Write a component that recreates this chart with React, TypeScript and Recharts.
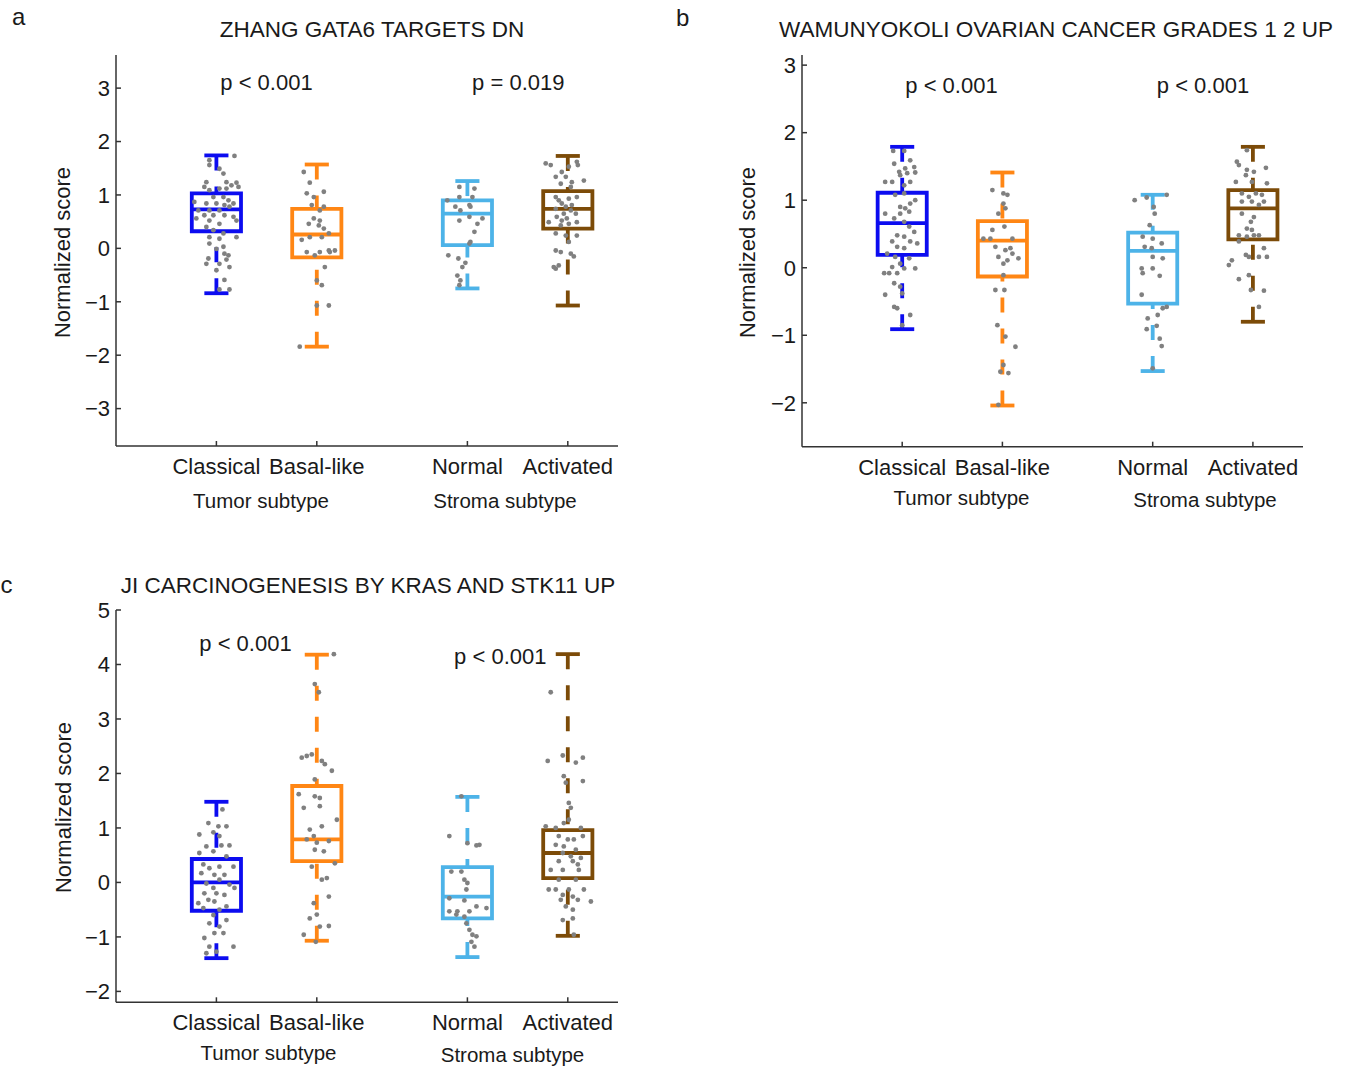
import { ComposedChart, XAxis, YAxis, Scatter, ReferenceArea, ReferenceLine } from 'recharts';

const FONT = '"Liberation Sans", Arial, Helvetica, sans-serif';
const TEXT = '#1a1a1a';
const AXIS = '#333333';
const DOT = '#808080';

const categories = ['Classical', 'Basal-like', 'Normal', 'Activated'];
const catPositions = [1, 2, 3.5, 4.5];
const groupColors = ['#0c0cf0', '#ff8614', '#4db3e8', '#7c4b08'];

// box stats per group: [lower whisker, q1, median, q3, upper whisker]
const statsA = [
  [-0.84, 0.32, 0.73, 1.03, 1.74],
  [-1.84, -0.17, 0.26, 0.74, 1.57],
  [-0.75, 0.06, 0.65, 0.9, 1.26],
  [-1.07, 0.37, 0.74, 1.07, 1.73],
];
const statsB = [
  [-0.91, 0.19, 0.66, 1.11, 1.79],
  [-2.04, -0.13, 0.4, 0.69, 1.41],
  [-1.53, -0.53, 0.25, 0.52, 1.08],
  [-0.8, 0.42, 0.88, 1.15, 1.79],
];
const statsC = [
  [-1.39, -0.52, 0.0, 0.43, 1.48],
  [-1.07, 0.39, 0.79, 1.77, 4.18],
  [-1.37, -0.66, -0.26, 0.28, 1.57],
  [-0.98, 0.08, 0.54, 0.96, 4.19],
];

// jittered samples: [offset from group centre, normalized score]
const dotsAClassical = [
  [-0.07, 1.65], [0.18, 1.73], [-0.07, 1.56], [0.03, 1.49], [0.07, 1.4], [-0.1, 1.24], [-0.12, 1.15],
  [-0.07, 1.09], [0.1, 1.24], [0.15, 1.18], [0.2, 1.23], [0.22, 1.15], [0.03, 1.12], [0.1, 1.12],
  [-0.03, 0.96], [0.07, 0.96], [0.12, 0.9], [0.17, 0.84], [-0.22, 0.87], [-0.1, 0.84], [0.0, 0.84],
  [0.08, 0.81], [0.13, 0.78], [-0.18, 0.71], [-0.07, 0.71], [0.03, 0.71], [-0.12, 0.62], [-0.03, 0.62],
  [0.08, 0.62], [0.17, 0.59], [0.2, 0.52], [-0.2, 0.56], [-0.07, 0.52], [0.03, 0.46], [-0.1, 0.4],
  [-0.03, 0.34], [0.07, 0.28], [-0.07, 0.21], [0.2, 0.21], [0.03, 0.18], [-0.07, 0.09], [0.07, 0.03],
  [0.0, -0.01], [0.08, -0.1], [0.12, -0.13], [-0.08, -0.19], [0.1, -0.21], [-0.1, -0.29], [0.03, -0.29],
  [0.13, -0.35], [0.0, -0.41], [0.08, -0.59], [0.03, -0.77], [0.13, -0.77],
];
const dotsABasal = [
  [-0.13, 1.43], [-0.07, 1.23], [-0.1, 1.03], [0.07, 1.06], [-0.03, 0.96], [-0.05, 0.81], [0.03, 0.71],
  [-0.03, 0.56], [0.03, 0.52], [0.02, 0.43], [0.07, 0.37], [0.12, 0.28], [-0.15, 0.16], [0.05, 0.21],
  [-0.1, -0.07], [0.03, -0.07], [0.12, -0.04], [0.18, -0.04], [0.13, -0.07], [-0.02, -0.13], [0.08, -0.35],
  [0.0, -0.6], [0.05, -0.69], [0.0, -1.07], [0.12, -1.07], [-0.17, -1.84], [-0.07, 0.21], [0.07, 0.78],
  [-0.08, 0.46],
];
const dotsANormal = [
  [-0.08, 1.15], [0.07, 1.12], [-0.08, 0.96], [0.05, 0.96], [-0.2, 0.9], [-0.12, 0.78], [0.02, 0.81],
  [-0.07, 0.71], [0.03, 0.78], [-0.08, 0.52], [0.02, 0.59], [0.15, 0.56], [0.1, 0.46], [0.07, 0.31],
  [0.03, 0.12], [0.02, 0.09], [-0.19, -0.13], [-0.09, -0.19], [-0.02, -0.27], [-0.05, -0.35], [-0.1, -0.51],
  [-0.07, -0.6], [-0.08, -0.69],
];
const dotsAActivated = [
  [-0.22, 1.59], [-0.17, 1.56], [0.01, 1.53], [0.09, 1.62], [0.1, 1.56], [-0.06, 1.43], [-0.12, 1.34],
  [-0.02, 1.34], [0.04, 1.24], [0.16, 1.27], [-0.07, 1.21], [0.03, 1.15], [-0.12, 0.96], [-0.09, 0.9],
  [0.01, 0.93], [0.09, 0.96], [-0.06, 0.84], [-0.02, 0.78], [0.04, 0.81], [-0.12, 0.74], [-0.04, 0.65],
  [0.03, 0.71], [0.08, 0.65], [-0.19, 0.49], [-0.11, 0.59], [-0.06, 0.52], [-0.01, 0.56], [0.09, 0.49],
  [-0.07, 0.43], [0.01, 0.46], [-0.12, 0.28], [-0.02, 0.24], [0.09, 0.24], [0.01, 0.12], [-0.12, -0.04],
  [-0.07, -0.07], [0.03, -0.1], [0.06, -0.15], [-0.14, -0.35], [-0.09, -0.32], [-0.12, -0.38],
];

const dotsBClassical = [
  [-0.09, 1.73], [0.02, 1.73], [0.08, 1.59], [-0.08, 1.54], [0.03, 1.47], [0.12, 1.49], [-0.03, 1.42],
  [-0.17, 1.27], [-0.1, 1.27], [-0.02, 1.37], [0.05, 1.4], [0.13, 1.41], [0.08, 1.27], [0.02, 1.22],
  [-0.07, 1.08], [0.02, 1.1], [0.13, 1.0], [0.08, 0.95], [-0.02, 0.9], [0.03, 0.88], [-0.17, 0.8],
  [-0.02, 0.8], [0.07, 0.83], [-0.08, 0.73], [0.02, 0.68], [0.07, 0.61], [0.12, 0.53], [-0.05, 0.48],
  [0.02, 0.46], [-0.1, 0.39], [0.08, 0.39], [0.15, 0.36], [-0.05, 0.31], [0.02, 0.29], [-0.15, 0.21],
  [-0.07, 0.16], [0.07, 0.14], [-0.02, 0.06], [-0.1, 0.01], [0.02, -0.01], [0.13, -0.01], [-0.18, -0.08],
  [-0.13, -0.08], [-0.05, -0.08], [-0.08, -0.23], [-0.02, -0.28], [0.0, -0.38], [-0.17, -0.4],
  [-0.08, -0.58], [-0.05, -0.6], [0.08, -0.7], [0.0, -0.85],
];
const dotsBBasal = [
  [-0.1, 1.15], [0.01, 1.1], [0.01, 0.95], [-0.04, 0.8], [-0.1, 0.56], [-0.19, 0.43], [-0.12, 0.43],
  [-0.07, 0.31], [0.03, 0.26], [-0.04, 0.16], [0.01, 0.06], [-0.07, -0.33], [-0.05, -0.85], [0.03, -1.02],
  [0.01, -1.44], [-0.02, -1.54], [0.06, -1.56], [0.05, 1.08], [0.03, 0.88], [0.02, 0.61], [0.1, 0.43],
  [0.08, 0.29], [0.1, 0.21], [0.05, 0.11], [0.16, 0.14], [0.01, -0.11], [0.02, -0.33], [0.13, -1.17],
  [-0.04, -2.03],
];
const dotsBNormal = [
  [-0.18, 1.0], [-0.06, 1.04], [0.14, 1.08], [0.01, 0.9], [0.02, 0.8], [-0.03, 0.63], [-0.1, 0.46],
  [0.0, 0.43], [-0.08, 0.31], [-0.01, 0.29], [0.09, 0.36], [0.0, 0.16], [0.1, 0.14], [-0.11, -0.01],
  [0.0, -0.01], [-0.1, -0.08], [0.07, -0.12], [-0.11, -0.4], [0.14, -0.58], [0.1, -0.6], [0.05, -0.7],
  [-0.05, -0.75], [0.04, -0.86], [-0.06, -0.91], [0.07, -1.05], [0.09, -1.16], [0.0, -1.49],
];
const dotsBActivated = [
  [-0.06, 1.74], [-0.16, 1.57], [-0.14, 1.52], [-0.06, 1.45], [0.01, 1.42], [0.13, 1.48], [-0.07, 1.37],
  [-0.17, 1.27], [-0.01, 1.27], [0.14, 1.25], [-0.11, 1.1], [-0.04, 1.05], [0.03, 1.1], [0.09, 1.08],
  [-0.11, 0.98], [-0.01, 0.98], [0.11, 0.98], [0.06, 0.93], [-0.11, 0.8], [0.01, 0.75], [-0.02, 0.68],
  [-0.06, 0.58], [-0.01, 0.56], [-0.14, 0.48], [0.01, 0.48], [-0.06, 0.46], [0.06, 0.48], [-0.14, 0.39],
  [-0.07, 0.19], [-0.04, 0.16], [0.11, 0.29], [0.06, 0.16], [0.14, 0.16], [-0.21, 0.11], [-0.24, 0.04],
  [-0.04, -0.11], [-0.14, -0.17], [-0.02, -0.33], [0.11, -0.34], [0.06, -0.58],
];

const dotsCClassical = [
  [0.06, 1.34], [-0.08, 1.09], [0.02, 1.03], [0.1, 1.03], [-0.17, 0.88], [-0.03, 0.92], [0.03, 0.85],
  [-0.1, 0.66], [0.05, 0.68], [0.13, 0.68], [-0.17, 0.54], [-0.03, 0.57], [0.1, 0.48], [-0.13, 0.33],
  [-0.07, 0.26], [0.03, 0.29], [0.17, 0.29], [-0.15, 0.17], [-0.02, 0.14], [0.08, 0.14], [-0.1, -0.02],
  [0.03, 0.05], [0.13, -0.04], [-0.03, -0.1], [0.18, -0.1], [-0.12, -0.2], [0.0, -0.2], [0.08, -0.23],
  [-0.18, -0.38], [-0.08, -0.32], [-0.02, -0.35], [0.1, -0.44], [-0.13, -0.47], [0.03, -0.5],
  [-0.03, -0.6], [0.1, -0.69], [-0.07, -0.75], [0.03, -0.81], [-0.12, -1.02], [-0.02, -0.93],
  [0.07, -0.93], [-0.07, -1.18], [0.17, -1.18], [0.0, -1.27], [-0.1, -1.3],
];
const dotsCBasal = [
  [0.17, 4.19], [-0.02, 3.64], [0.02, 3.49], [-0.15, 2.29], [-0.1, 2.32], [-0.05, 2.35], [0.05, 2.23],
  [0.08, 2.17], [-0.02, 1.89], [-0.18, 1.62], [-0.02, 1.58], [0.03, 1.55], [-0.13, 1.37], [0.03, 1.4],
  [-0.07, 0.97], [0.05, 1.03], [-0.03, 0.85], [-0.1, 0.79], [0.0, 0.73], [0.12, 0.76], [-0.02, 0.6],
  [0.07, 0.57], [-0.05, 0.29], [0.05, 0.05], [0.1, 0.08], [0.12, -0.26], [-0.03, -0.38], [0.0, -0.59],
  [-0.07, -0.66], [0.03, -0.81], [-0.13, -0.96], [-0.01, -1.09], [0.2, 1.15], [0.15, 2.05], [0.18, 0.35],
  [0.12, -0.8],
];
const dotsCNormal = [
  [-0.06, 1.58], [-0.18, 0.85], [0.0, 0.72], [0.09, 0.68], [0.12, 0.69], [-0.16, 0.2], [-0.06, 0.2],
  [-0.03, 0.05], [0.0, -0.01], [-0.01, -0.13], [-0.18, -0.29], [-0.03, -0.33], [-0.18, -0.53],
  [-0.1, -0.53], [0.02, -0.53], [0.19, -0.47], [0.09, -0.44], [-0.03, -0.63], [-0.11, -0.59],
  [-0.01, -0.75], [0.02, -0.87], [0.05, -0.96], [0.09, -0.99], [0.04, -1.09], [0.07, -1.18],
];
const dotsCActivated = [
  [-0.17, 3.49], [-0.05, 2.33], [0.08, 2.2], [0.15, 2.29], [-0.2, 2.23], [-0.04, 1.95], [-0.02, 1.83],
  [0.15, 1.86], [0.01, 1.46], [0.03, 1.37], [0.01, 1.15], [-0.04, 1.09], [-0.22, 1.03], [-0.12, 1.0],
  [0.13, 1.0], [-0.09, 0.85], [0.0, 0.79], [0.06, 0.79], [0.15, 0.85], [-0.12, 0.69], [-0.04, 0.66],
  [0.08, 0.6], [-0.05, 0.54], [0.03, 0.48], [0.13, 0.45], [-0.09, 0.39], [0.05, 0.39], [0.1, 0.33],
  [-0.17, 0.23], [-0.05, 0.23], [0.11, 0.23], [-0.09, 0.05], [0.08, 0.05], [-0.19, -0.13], [-0.12, -0.13],
  [0.01, -0.13], [0.16, -0.13], [-0.05, -0.23], [0.05, -0.26], [-0.07, -0.32], [0.1, -0.32], [0.23, -0.35],
  [-0.02, -0.44], [0.05, -0.5], [-0.05, -0.69], [0.05, -0.66], [0.06, -0.96],
];

const panels = [
  {
    id: 'a', left: 0, top: 0, width: 660, height: 540,
    margin: { top: 55, right: 42, left: 66, bottom: 54 },
    yDomain: [-3.7, 3.62], yTicks: [-3, -2, -1, 0, 1, 2, 3],
    stats: statsA, dots: [dotsAClassical, dotsABasal, dotsANormal, dotsAActivated],
  },
  {
    id: 'b', left: 686, top: 0, width: 660, height: 540,
    margin: { top: 55, right: 43, left: 66, bottom: 53.3 },
    yDomain: [-2.65, 3.15], yTicks: [-2, -1, 0, 1, 2, 3],
    stats: statsB, dots: [dotsBClassical, dotsBBasal, dotsBNormal, dotsBActivated],
  },
  {
    id: 'c', left: 0, top: 555, width: 660, height: 510,
    margin: { top: 55, right: 42, left: 66, bottom: 22.7 },
    yDomain: [-2.2, 5], yTicks: [-2, -1, 0, 1, 2, 3, 4, 5],
    stats: statsC, dots: [dotsCClassical, dotsCBasal, dotsCNormal, dotsCActivated],
  },
];

const titles = [
  { x: 372, y: 37, text: 'ZHANG GATA6 TARGETS DN' },
  { x: 1056, y: 37, text: 'WAMUNYOKOLI OVARIAN CANCER GRADES 1 2 UP' },
  { x: 368, y: 592.5, text: 'JI CARCINOGENESIS BY KRAS AND STK11 UP' },
];
const panelLetters = [
  { x: 12, y: 25, text: 'a' },
  { x: 676, y: 26, text: 'b' },
  { x: 0.5, y: 593, text: 'c' },
];
const pValues = [
  { x: 266.5, y: 90, text: 'p < 0.001' },
  { x: 518.3, y: 90, text: 'p = 0.019' },
  { x: 951.5, y: 93.3, text: 'p < 0.001' },
  { x: 1203, y: 93.3, text: 'p < 0.001' },
  { x: 245.5, y: 650.7, text: 'p < 0.001' },
  { x: 500.3, y: 664, text: 'p < 0.001' },
];
const subtypeLabels = [
  { x: 261, y: 508, text: 'Tumor subtype' },
  { x: 505, y: 508, text: 'Stroma subtype' },
  { x: 961.5, y: 504.5, text: 'Tumor subtype' },
  { x: 1205, y: 507, text: 'Stroma subtype' },
  { x: 268.5, y: 1060, text: 'Tumor subtype' },
  { x: 512.5, y: 1061.5, text: 'Stroma subtype' },
];
const yLabels = [
  { x: 70, y: 252.5 },
  { x: 755, y: 252.5 },
  { x: 70.5, y: 807.5 },
];

const BOX_HALF = 0.245;
const CAP_HALF = 0.12;
const LINE_W = 3.8;
const DASH = '15 16';

const minus = (v: number) => (v < 0 ? '\u2212' + Math.abs(v) : String(v));
const catLabel = (v: number) => categories[catPositions.indexOf(v)] ?? '';

const dotShape = (p: any) => <circle cx={p.cx} cy={p.cy} r={2.4} fill={DOT} />;

function BoxPanel({ panel }: { panel: any }) {
  const marks: any[] = [];
  panel.stats.forEach((s: number[], i: number) => {
    const [lo, q1, med, q3, hi] = s;
    const p = catPositions[i];
    const c = groupColors[i];
    marks.push(
      <ReferenceLine key={`wu${i}`} segment={[{ x: p, y: hi }, { x: p, y: q3 }]} stroke={c} strokeWidth={LINE_W} strokeDasharray={DASH} />,
      <ReferenceLine key={`wl${i}`} segment={[{ x: p, y: lo }, { x: p, y: q1 }]} stroke={c} strokeWidth={LINE_W} strokeDasharray={DASH} />,
      <ReferenceLine key={`cu${i}`} segment={[{ x: p - CAP_HALF, y: hi }, { x: p + CAP_HALF, y: hi }]} stroke={c} strokeWidth={LINE_W} />,
      <ReferenceLine key={`cl${i}`} segment={[{ x: p - CAP_HALF, y: lo }, { x: p + CAP_HALF, y: lo }]} stroke={c} strokeWidth={LINE_W} />,
      <ReferenceArea key={`bx${i}`} x1={p - BOX_HALF} x2={p + BOX_HALF} y1={q1} y2={q3} fill="none" stroke={c} strokeWidth={LINE_W} />,
      <ReferenceLine key={`md${i}`} segment={[{ x: p - BOX_HALF, y: med }, { x: p + BOX_HALF, y: med }]} stroke={c} strokeWidth={LINE_W} />,
    );
  });

  const tickStyle = { fill: TEXT, fontSize: 22, fontFamily: FONT };

  return (
    <div style={{ position: 'absolute', left: panel.left, top: panel.top }}>
      <ComposedChart width={panel.width} height={panel.height} margin={panel.margin}>
        <XAxis
          type="number"
          dataKey="x"
          domain={[0, 5]}
          ticks={catPositions}
          interval={0}
          tickFormatter={catLabel}
          tick={tickStyle}
          tickSize={-5}
          tickMargin={17.4}
          height={40}
          axisLine={{ stroke: AXIS, strokeWidth: 1.5 }}
          tickLine={{ stroke: AXIS, strokeWidth: 1.5 }}
        />
        <YAxis
          type="number"
          dataKey="y"
          domain={panel.yDomain}
          ticks={panel.yTicks}
          interval={0}
          tickFormatter={minus}
          tick={tickStyle}
          tickSize={-5}
          tickMargin={11}
          width={50}
          axisLine={{ stroke: AXIS, strokeWidth: 1.5 }}
          tickLine={{ stroke: AXIS, strokeWidth: 1.5 }}
        />
        {marks}
        {panel.dots.map((g: number[][], i: number) => (
          <Scatter
            key={`s${i}`}
            name={categories[i]}
            data={g.map(([dx, v]) => ({ x: catPositions[i] + dx, y: v }))}
            shape={dotShape}
            isAnimationActive={false}
          />
        ))}
      </ComposedChart>
    </div>
  );
}

export default function App() {
  return (
    <div style={{ position: 'absolute', left: 0, top: 0, width: 1353, height: 1068, overflow: 'hidden', background: '#fff' }}>
      {panels.map((p) => (
        <BoxPanel key={p.id} panel={p} />
      ))}
      <svg width={1353} height={1068} style={{ position: 'absolute', left: 0, top: 0, pointerEvents: 'none' }} fontFamily={FONT} fill={TEXT}>
        {titles.map((t) => (
          <text key={t.text} x={t.x} y={t.y} fontSize={22.5} textAnchor="middle">{t.text}</text>
        ))}
        {panelLetters.map((t) => (
          <text key={t.text} x={t.x} y={t.y} fontSize={24}>{t.text}</text>
        ))}
        {pValues.map((t, i) => (
          <text key={`p${i}`} x={t.x} y={t.y} fontSize={22} textAnchor="middle">{t.text}</text>
        ))}
        {subtypeLabels.map((t, i) => (
          <text key={`g${i}`} x={t.x} y={t.y} fontSize={20.5} textAnchor="middle">{t.text}</text>
        ))}
        {yLabels.map((t, i) => (
          <text key={`y${i}`} transform={`translate(${t.x},${t.y}) rotate(-90)`} fontSize={22} textAnchor="middle">Normalized score</text>
        ))}
      </svg>
    </div>
  );
}
